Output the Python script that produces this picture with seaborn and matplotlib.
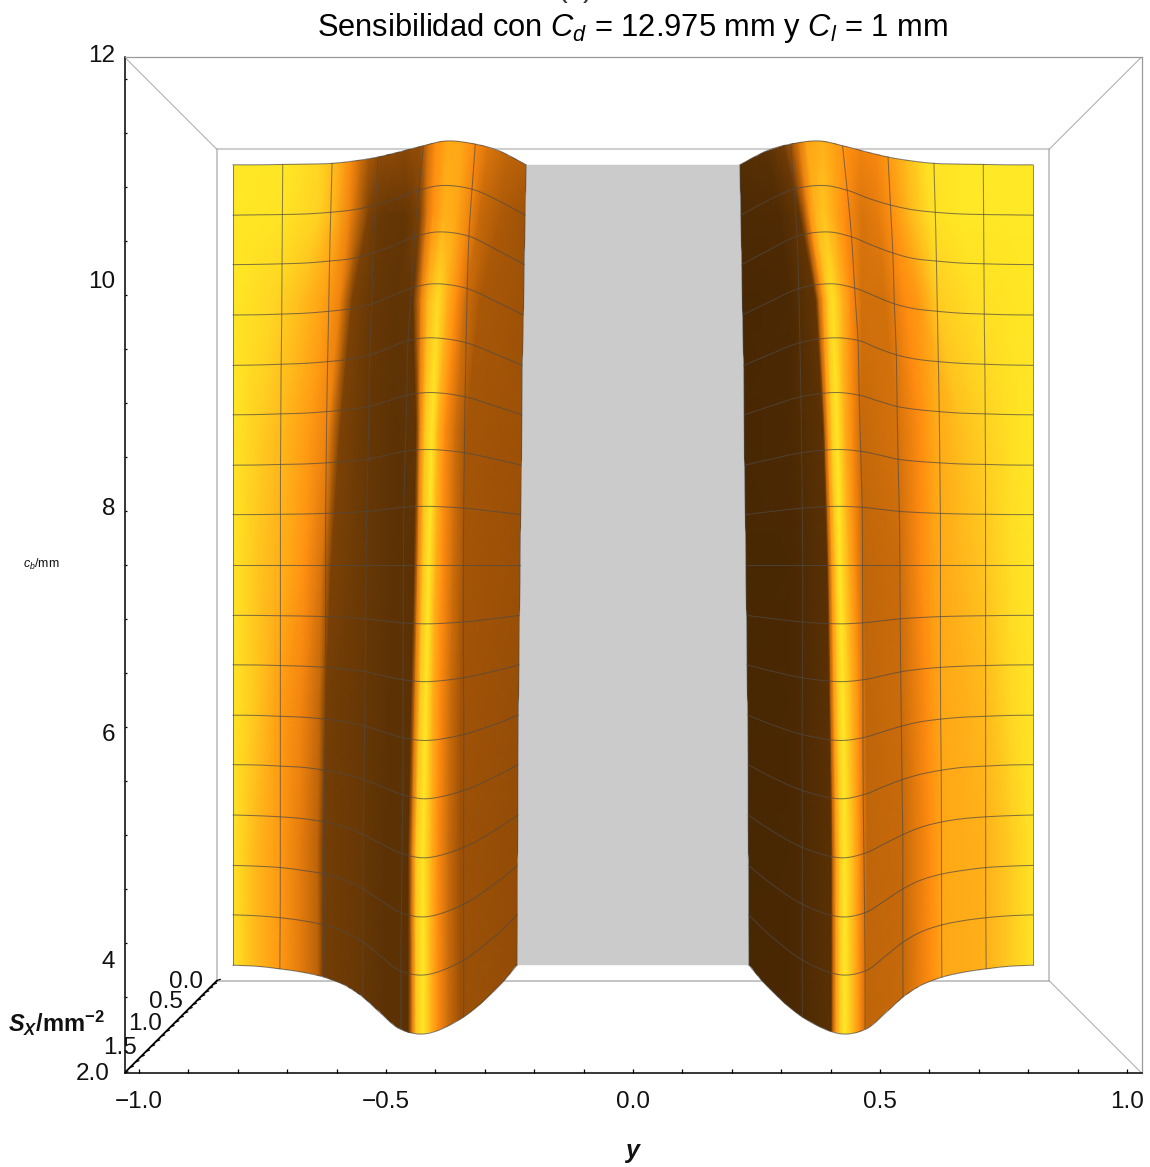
# Sensibilidad surface seen from above, two wings around the central gap
import numpy as np
import matplotlib
matplotlib.use("Agg")
import matplotlib.pyplot as plt
from matplotlib.colors import LinearSegmentedColormap
from matplotlib.patches import Polygon
import seaborn as sns

sns.set_theme(style="white")
plt.rcParams['font.family'] = ['Liberation Sans', 'DejaVu Sans']
plt.rcParams['mathtext.fontset'] = 'custom'
plt.rcParams['mathtext.rm'] = 'Liberation Sans'
plt.rcParams['mathtext.it'] = 'Liberation Sans:italic'
plt.rcParams['mathtext.bf'] = 'Liberation Sans:bold'
plt.rcParams['mathtext.bfit'] = 'Liberation Sans:italic:bold'

# surface samples: |y| columns, c_b rows, S_X at each node
y_cols = [0.99, 0.928, 0.866, 0.804, 0.742, 0.68, 0.619, 0.557, 0.495, 0.433, 0.371, 0.32]
cb_rows = [12.03, 11.46, 10.90, 10.33, 9.76, 9.20, 8.63, 8.07, 7.50,
           6.93, 6.37, 5.80, 5.24, 4.67, 4.10, 3.54, 2.97]
y_inner = [0.2645, 0.267, 0.269, 0.271, 0.274, 0.275, 0.276, 0.278, 0.279,
           0.281, 0.282, 0.284, 0.285, 0.285, 0.286, 0.286, 0.287]
s_rows = [
    [0, 0.00, 0.01, 0.02, 0.04, 0.11, 0.21, 0.35, 0.50, 0.62, 0.54, 0.37, 0],
    [0, 0.01, 0.02, 0.04, 0.09, 0.17, 0.31, 0.50, 0.73, 0.86, 0.76, 0.44, 0],
    [0, 0.01, 0.03, 0.06, 0.13, 0.22, 0.41, 0.66, 0.93, 1.08, 0.95, 0.50, 0],
    [0, 0.01, 0.04, 0.08, 0.16, 0.27, 0.47, 0.77, 1.07, 1.22, 1.05, 0.54, 0],
    [0, 0.02, 0.06, 0.11, 0.20, 0.33, 0.55, 0.87, 1.22, 1.33, 1.12, 0.56, 0],
    [0, 0.02, 0.07, 0.12, 0.23, 0.37, 0.58, 0.92, 1.27, 1.42, 1.18, 0.58, 0],
    [0, 0.02, 0.08, 0.13, 0.25, 0.40, 0.62, 0.99, 1.34, 1.49, 1.22, 0.60, 0],
    [0, 0.02, 0.08, 0.14, 0.27, 0.44, 0.67, 1.03, 1.40, 1.55, 1.26, 0.62, 0],
    [0, 0.02, 0.08, 0.15, 0.27, 0.45, 0.69, 1.04, 1.41, 1.58, 1.28, 0.62, 0],
    [0, 0.02, 0.08, 0.15, 0.27, 0.46, 0.70, 1.06, 1.42, 1.58, 1.28, 0.62, 0],
    [0, 0.02, 0.08, 0.15, 0.27, 0.46, 0.72, 1.08, 1.43, 1.58, 1.26, 0.61, 0],
    [0, 0.02, 0.08, 0.15, 0.28, 0.47, 0.75, 1.09, 1.43, 1.58, 1.25, 0.60, 0],
    [0, 0.02, 0.08, 0.15, 0.30, 0.50, 0.77, 1.10, 1.44, 1.60, 1.26, 0.60, 0],
    [0, 0.03, 0.08, 0.16, 0.30, 0.51, 0.80, 1.14, 1.47, 1.60, 1.26, 0.60, 0],
    [0, 0.03, 0.08, 0.18, 0.31, 0.51, 0.80, 1.16, 1.50, 1.60, 1.26, 0.60, 0],
    [0, 0.03, 0.09, 0.18, 0.31, 0.51, 0.80, 1.17, 1.52, 1.60, 1.26, 0.60, 0],
    [0, 0.03, 0.10, 0.19, 0.32, 0.52, 0.81, 1.18, 1.52, 1.60, 1.26, 0.62, 0],
]

# colour bands: where each shade sits along y at a few c_b levels
band_cb = [11.53, 10.74, 9.95, 8.75, 7.5, 6.25, 4.86, 3.10]
left_y = [
    [.816, .694, .634, .593, .569, .536, .512, .461, .429, .415, .399, .374, .346, .318, .289, .249, .208],
    [.816, .704, .634, .603, .573, .536, .512, .461, .431, .417, .405, .383, .358, .330, .310, .269, .208],
    [.816, .725, .674, .623, .593, .569, .532, .482, .445, .429, .415, .395, .376, .358, .340, .310, .208],
    [.816, .755, .704, .654, .617, .593, .542, .482, .439, .431, .421, .407, .395, .381, .360, .338, .208],
    [.816, .759, .698, .664, .629, .611, .542, .482, .443, .435, .425, .413, .399, .385, .364, .342, .208],
    [.816, .759, .710, .670, .634, .621, .553, .492, .449, .441, .431, .419, .405, .391, .370, .348, .208],
    [.816, .765, .714, .674, .638, .627, .553, .502, .455, .447, .439, .425, .407, .395, .374, .350, .208],
    [.816, .765, .714, .674, .638, .627, .553, .502, .455, .447, .439, .425, .407, .395, .374, .350, .208],
]
left_shade = [
    [1, 1.0, .93, .78, .60, .38, .28, .26, .28, .45, .60, .72, .72, .60, .50, .42, .40],
    [1, .98, .90, .75, .55, .20, .15, .14, .20, .50, .62, .76, .72, .55, .42, .33, .28],
    [1, .92, .82, .68, .55, .20, .15, .13, .14, .55, .80, .95, .75, .60, .45, .32, .28],
    [1, .88, .78, .66, .55, .20, .15, .12, .13, .55, .85, 1.0, .78, .60, .45, .30, .28],
    [1, .85, .72, .62, .47, .20, .15, .12, .12, .55, .85, 1.0, .75, .60, .45, .30, .27],
    [1, .84, .66, .56, .40, .18, .15, .12, .12, .50, .85, 1.0, .75, .60, .44, .29, .26],
    [1, .80, .65, .52, .38, .18, .15, .12, .12, .50, .85, 1.0, .75, .60, .44, .28, .25],
    [1, .80, .65, .52, .38, .18, .15, .12, .12, .50, .85, 1.0, .75, .60, .44, .28, .25],
]
right_y = [
    [.206, .257, .298, .318, .332, .348, .383, .409, .435, .459, .490, .516, .551, .591, .662, .743, .816],
    [.206, .298, .338, .348, .358, .370, .387, .409, .429, .463, .496, .524, .557, .601, .662, .743, .816],
    [.206, .318, .370, .376, .385, .395, .405, .423, .441, .463, .510, .551, .577, .617, .692, .743, .816],
    [.206, .318, .385, .389, .395, .403, .413, .429, .445, .463, .536, .581, .611, .662, .712, .763, .816],
    [.206, .318, .393, .397, .403, .411, .419, .437, .451, .468, .536, .583, .617, .662, .712, .763, .816],
    [.206, .318, .397, .401, .407, .415, .425, .443, .457, .472, .544, .593, .625, .672, .712, .763, .816],
    [.206, .318, .401, .405, .411, .419, .429, .447, .459, .474, .546, .601, .629, .672, .712, .767, .816],
    [.206, .318, .401, .405, .411, .419, .429, .447, .459, .474, .546, .601, .629, .672, .712, .767, .816],
]
right_shade = [
    [.10, .12, .18, .30, .48, .68, .76, .68, .62, .58, .60, .68, .82, .98, 1.0, 1.0, 1],
    [.03, .05, .14, .35, .62, .78, .85, .72, .60, .48, .52, .62, .78, .96, 1.0, 1.0, 1],
    [.00, .02, .14, .40, .65, .88, .97, .78, .60, .46, .46, .60, .65, .88, .96, .98, 1],
    [.00, .02, .12, .40, .65, .88, 1.0, .75, .58, .42, .47, .60, .72, .82, .90, .96, 1],
    [.00, .01, .11, .40, .65, .88, 1.0, .75, .58, .40, .43, .60, .72, .78, .85, .95, 1],
    [.00, .01, .11, .40, .65, .88, 1.0, .78, .60, .40, .44, .60, .72, .76, .80, .93, 1],
    [.00, .01, .11, .40, .65, .88, 1.0, .78, .60, .40, .42, .60, .72, .74, .76, .88, 1],
    [.00, .01, .11, .40, .65, .88, 1.0, .78, .60, .40, .42, .60, .72, .74, .76, .88, 1],
]

y_ticks = [-1.0, -0.5, 0.0, 0.5, 1.0]
cb_labels = ['12', '10', '8', '6', '4']
s_labels = ['0.0', '0.5', '1.0', '1.5', '2.0']

# view: depth scaling towards the viewer, S=2 lies on the front plane
k = 0.091
front = 1 / (1 - k * 2)
y_box = 1.0295
cb_mid = 7.5
cb_half = 4.704


def project(y, cb, s):
    f = (1 / (1 - k * np.asarray(s, dtype=float))) / front
    return np.asarray(y) * f, cb_mid + (np.asarray(cb) - cb_mid) * f


def smooth(x, y, n=8):
    # Catmull-Rom through the nodes so mesh lines do not look faceted
    p = np.column_stack([x, y])
    p = np.vstack([2 * p[0] - p[1], p, 2 * p[-1] - p[-2]])
    out = []
    t = np.linspace(0, 1, n, endpoint=False)[:, None]
    for i in range(1, len(p) - 2):
        a, b, c, d = p[i - 1], p[i], p[i + 1], p[i + 2]
        out.append(0.5 * (2 * b + (c - a) * t + (2 * a - 5 * b + 4 * c - d) * t ** 2
                          + (3 * b - a - 3 * c + d) * t ** 3))
    out.append(p[-2][None, :])
    return np.vstack(out)


cmap = LinearSegmentedColormap.from_list('sens', [
    (0.0, '#482703'), (0.12, '#5C3205'), (0.3, '#A55507'), (0.45, '#CE6E0B'),
    (0.6, '#FF8C10'), (0.75, '#FFAE18'), (0.9, '#FFD022'), (1.0, '#FFE825')])

W, H = 1150, 1167
fig = plt.figure(figsize=(W / 100, H / 100), dpi=100)
ax = fig.add_axes([125 / W, 1 - 1073 / H, (1142 - 125) / W, (1073 - 57) / H])


def line(x, y, color, lw, alpha=1.0, zorder=3):
    sns.lineplot(x=x, y=y, ax=ax, sort=False, estimator=None, errorbar=None,
                 color=color, lw=lw, alpha=alpha, zorder=zorder)


# box seen through the top
corner_x, corner_cb = project([-y_box, y_box, y_box, -y_box, -y_box],
                              [cb_mid + cb_half, cb_mid + cb_half, cb_mid - cb_half, cb_mid - cb_half, cb_mid + cb_half], 0)
line(corner_x[:2], corner_cb[:2], '#cfcfcf', 1.5, zorder=1)
line(corner_x[1:3], corner_cb[1:3], '#bdbdbd', 1.2, zorder=1)
line(corner_x[2:4], corner_cb[2:4], '#b4b4b4', 1.1, zorder=1)
line(corner_x[3:5], corner_cb[3:5], '#bdbdbd', 1.2, zorder=1)
for sx, sc in [(-1, 1), (1, 1), (1, -1)]:
    dx, dc = project([sx * y_box, sx * y_box], [cb_mid + sc * cb_half] * 2, [0, 2])
    line(dx, dc, '#a8a8a8', 0.7, zorder=1)

# S axis on the lower left corner
dx, dc = project([-y_box, -y_box], [cb_mid - cb_half] * 2, [0, 2])
line(dx, dc, 'black', 1.3, zorder=6)
for st in np.arange(0, 2.01, 0.1):
    tx, tc = project(-y_box, cb_mid - cb_half, st)
    line([tx, tx + 0.007], [tc, tc + 0.012], 'black', 0.9, zorder=6)

s_table = np.array(s_rows)
cb_arr = np.array(cb_rows)
inner = np.array(y_inner)

# y per node, the last column follows the inner edge of the wing
y_nodes = np.column_stack([np.tile(y_cols, (len(cb_rows), 1)), inner])
cb_nodes = np.tile(cb_arr[:, None], (1, y_nodes.shape[1]))

# central gap
gx, gc = project(np.r_[-inner, inner[::-1]], np.r_[cb_arr, cb_arr[::-1]], 0)
ax.fill(gx, gc, color='#CBCBCB', lw=0, zorder=1.5)

for sign, band_y, band_shade in [(-1, left_y, left_shade), (1, right_y, right_shade)]:
    px, pc = project(sign * y_nodes, cb_nodes, s_table)
    outline = np.vstack([
        smooth(px[0], pc[0]),
        smooth(px[:, -1], pc[:, -1]),
        smooth(px[-1][::-1], pc[-1][::-1]),
        smooth(px[:, 0][::-1], pc[:, 0][::-1]),
    ])
    clip = Polygon(outline, closed=True, transform=ax.transData)
    band_x = sign * np.array(band_y)
    band_c = np.tile(np.array(band_cb)[:, None], (1, band_x.shape[1]))
    mesh = ax.pcolormesh(band_x, band_c, np.array(band_shade), shading='gouraud',
                         cmap=cmap, vmin=0, vmax=1, zorder=2)
    mesh.set_clip_path(clip)

    # mesh lines on the surface
    for r in range(px.shape[0]):
        curve = smooth(px[r], pc[r])
        line(curve[:, 0], curve[:, 1], '#4f4a44', 0.75, alpha=0.7)
    for c in [0, 2, 4, 6, 8, 10, 12]:
        curve = smooth(px[:, c], pc[:, c])
        line(curve[:, 0], curve[:, 1], '#4f4a44', 0.75, alpha=0.65)

ax.set_xlim(-(633 - 125) / 494, (1142 - 633) / 494)
ax.set_ylim(cb_mid - 508 / 108, cb_mid + 508 / 108)

for side in ['left', 'bottom']:
    ax.spines[side].set_color('black')
    ax.spines[side].set_linewidth(1.1)
for side in ['top', 'right']:
    ax.spines[side].set_color('#9a9a9a')
    ax.spines[side].set_linewidth(0.9)

ax.set_xticks(y_ticks)
ax.set_xticklabels([t.replace('-', '\u2212') for t in [f'{v:.1f}' for v in y_ticks]], fontsize=17.5)
ax.set_xticks(np.arange(-1.0, 1.01, 0.1), minor=True)
ax.set_yticks(np.arange(3, 12.1, 0.5))
ax.set_yticklabels([])
ax.tick_params(axis='x', which='both', direction='in', bottom=True, length=2.6, width=0.9, color='black', pad=13)
ax.tick_params(axis='y', direction='in', left=True, length=1.2, width=0.9, color='black')
ax.xaxis.set_tick_params(labelcolor='#111111')


def label(px, py, text, **kw):
    fig.text(px / W, 1 - py / H, text, **kw)


for lab, py in zip(cb_labels, [56, 282, 509, 735, 962]):
    label(115, py, lab, ha='right', va='center', fontsize=17.5, color='#111111')
for lab, (px, py) in zip(s_labels, [(203, 982), (183, 1002), (162, 1024), (137, 1048), (110, 1074)]):
    label(px, py, lab, ha='right', va='center', fontsize=17.5, color='#111111')

label(633, 36, r'Sensibilidad con $C_d$ = 12.975 mm y $C_l$ = 1 mm', ha='center', va='baseline', fontsize=22.2, color='black')
label(575, -3, '(a)', ha='center', va='baseline', fontsize=21, color='#333333')
label(8, 1032, r'$\mathbfit{S_X}$/mm$^{\mathbf{-2}}$', ha='left', va='baseline', fontsize=17, fontweight='bold', color='#111111')
label(23, 568, r'$c_b$/mm', ha='left', va='baseline', fontsize=9, color='#111111')
label(633, 1158, r'$\mathbfit{y}$', ha='center', va='baseline', fontsize=18, color='#111111')

fig.savefig('out.png', dpi=100)
